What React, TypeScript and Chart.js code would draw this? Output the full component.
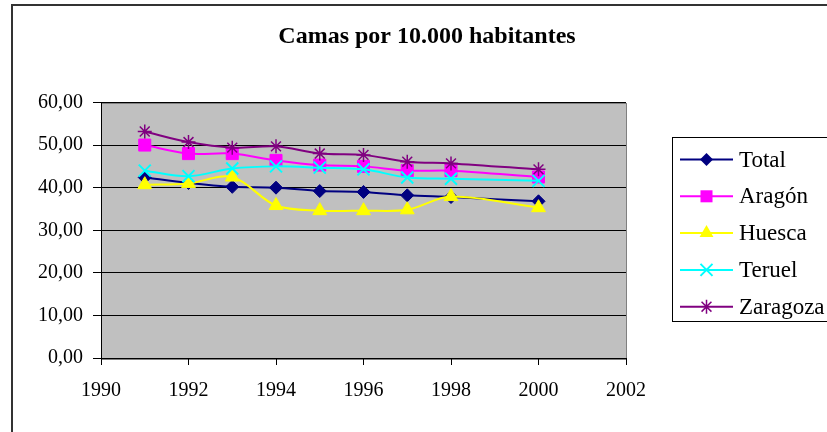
import React, { useEffect, useRef } from 'react';
import { Chart, registerables } from 'chart.js';

Chart.register(...registerables);

const titleText = 'Camas por 10.000 habitantes';
const years = [1991, 1992, 1993, 1994, 1995, 1996, 1997, 1998, 2000];
const seriesNames = ['Total', 'Aragón', 'Huesca', 'Teruel', 'Zaragoza'];
const total = [42.4, 41.1, 40.2, 40.0, 39.2, 39.0, 38.2, 37.8, 36.8];
const aragon = [50.0, 48.0, 48.0, 46.4, 45.3, 45.0, 44.0, 44.0, 42.5];
const huesca = [40.7, 41.0, 42.5, 35.8, 34.6, 34.6, 34.8, 37.9, 35.3];
const teruel = [44.0, 42.7, 44.5, 45.0, 44.7, 44.3, 42.4, 42.1, 41.6];
const zaragoza = [53.2, 50.7, 49.4, 49.7, 48.0, 47.7, 46.1, 45.7, 44.3];
const seriesValues = [total, aragon, huesca, teruel, zaragoza];
const colors = ['#000080', '#FF00FF', '#FFFF00', '#00FFFF', '#800080'];
const markers = ['rectRot', 'rect', 'triangle', 'crossRot', 'star'];
const markerRadius = [6.5, 8.5, 8, 8.5, 7];
const xMin = 1990;
const xMax = 2002;
const xStep = 2;
const yMin = 0;
const yMax = 60;
const yStep = 10;

const SERIF = '"Liberation Serif", "Times New Roman", serif';

function drawMarker(ctx: CanvasRenderingContext2D, style: string, x: number, y: number, r: number, color: string) {
  ctx.save();
  ctx.fillStyle = color;
  ctx.strokeStyle = color;
  ctx.beginPath();
  if (style === 'rectRot') {
    ctx.moveTo(x - r, y);
    ctx.lineTo(x, y - r);
    ctx.lineTo(x + r, y);
    ctx.lineTo(x, y + r);
    ctx.closePath();
    ctx.fill();
  } else if (style === 'rect') {
    const s = Math.SQRT1_2 * r;
    ctx.rect(x - s, y - s, 2 * s, 2 * s);
    ctx.fill();
  } else if (style === 'triangle') {
    ctx.moveTo(x, y - r);
    ctx.lineTo(x + r * Math.sin(Math.PI / 3), y + r / 2);
    ctx.lineTo(x - r * Math.sin(Math.PI / 3), y + r / 2);
    ctx.closePath();
    ctx.fill();
  } else if (style === 'crossRot') {
    const s = Math.SQRT1_2 * r;
    ctx.lineWidth = 2;
    ctx.moveTo(x - s, y - s);
    ctx.lineTo(x + s, y + s);
    ctx.moveTo(x - s, y + s);
    ctx.lineTo(x + s, y - s);
    ctx.stroke();
  } else if (style === 'star') {
    const s = Math.SQRT1_2 * r;
    ctx.lineWidth = 1.5;
    ctx.moveTo(x - s, y - s);
    ctx.lineTo(x + s, y + s);
    ctx.moveTo(x - s, y + s);
    ctx.lineTo(x + s, y - s);
    ctx.moveTo(x, y - r);
    ctx.lineTo(x, y + r);
    ctx.stroke();
  }
  ctx.restore();
}

const decorPlugin = {
  id: 'decor',
  beforeDraw(chart: any) {
    const { ctx, chartArea: a, width, height } = chart;
    ctx.save();
    ctx.fillStyle = '#ffffff';
    ctx.fillRect(0, 0, width, height);
    ctx.strokeStyle = '#333333';
    ctx.lineWidth = 2;
    ctx.strokeRect(12, 5, 900, 500);
    ctx.fillStyle = '#C0C0C0';
    ctx.fillRect(a.left, a.top, a.right - a.left, a.bottom - a.top);
    ctx.strokeStyle = '#808080';
    ctx.lineWidth = 1;
    ctx.strokeRect(Math.round(a.left) + 0.5, Math.round(a.top) + 0.5, Math.round(a.right - a.left), Math.round(a.bottom - a.top));
    ctx.restore();
  },
  afterDraw(chart: any) {
    const { ctx } = chart;
    ctx.save();
    // title
    ctx.fillStyle = '#000';
    ctx.font = 'bold 24px ' + SERIF;
    ctx.textAlign = 'center';
    ctx.textBaseline = 'middle';
    ctx.fillText(titleText, 427, 37);
    // legend
    ctx.strokeStyle = '#000';
    ctx.lineWidth = 1;
    ctx.strokeRect(672.5, 137.5, 220, 184);
    ctx.font = '23px ' + SERIF;
    ctx.textAlign = 'left';
    chart.data.datasets.forEach((ds: any, i: number) => {
      const y = 159.5 + i * 36.8;
      ctx.strokeStyle = ds.borderColor;
      ctx.lineWidth = 2;
      ctx.beginPath();
      ctx.moveTo(680, y);
      ctx.lineTo(733, y);
      ctx.stroke();
      drawMarker(ctx, ds.pointStyle, 706.5, y, ds.pointRadius, ds.borderColor);
      ctx.fillStyle = '#000';
      ctx.fillText(ds.label, 739, y + 1);
    });
    ctx.restore();
  },
};

export default function App() {
  const ref = useRef<HTMLCanvasElement | null>(null);
  useEffect(() => {
    document.body.style.margin = '0';
    const canvas = ref.current;
    if (!canvas) return;
    const datasets = seriesNames.map((name, i) => ({
      label: name,
      data: years.map((yr, j) => ({ x: yr, y: seriesValues[i][j] })),
      borderColor: colors[i],
      backgroundColor: colors[i],
      borderWidth: 2,
      tension: 0.33,
      pointStyle: markers[i],
      pointRadius: markerRadius[i],
      pointBackgroundColor: colors[i],
      pointBorderColor: colors[i],
      pointBorderWidth: markers[i] === 'crossRot' ? 2 : markers[i] === 'star' ? 1.5 : 1,
      order: seriesNames.length - i,
      fill: false,
    }));
    const chart = new Chart(canvas, {
      type: 'line',
      data: { datasets },
      plugins: [decorPlugin],
      options: {
        animation: false,
        responsive: false,
        devicePixelRatio: 1,
        layout: { padding: { top: 102.5, right: 201, bottom: 0, left: 0 } },
        plugins: {
          legend: { display: false },
          title: { display: false },
          tooltip: { enabled: false },
        },
        scales: {
          x: {
            type: 'linear',
            min: xMin,
            max: xMax,
            ticks: {
              stepSize: xStep,
              autoSkip: false,
              maxRotation: 0,
              padding: 14,
              color: '#000',
              font: { family: SERIF, size: 20 },
              callback: (v: any) => String(v),
            },
            grid: { drawOnChartArea: false, drawTicks: true, tickLength: 7, color: '#000' },
            border: { color: '#000', width: 1 },
            afterFit: (s: any) => { s.height = 74; },
          },
          y: {
            min: yMin,
            max: yMax,
            ticks: {
              stepSize: yStep,
              padding: 10,
              color: '#000',
              font: { family: SERIF, size: 20 },
              callback: (v: any) => Number(v).toFixed(2).replace('.', ','),
            },
            grid: { color: '#000', tickLength: 8 },
            border: { color: '#000', width: 1 },
            afterFit: (s: any) => { s.width = 101; },
          },
        },
      },
    } as any);
    return () => chart.destroy();
  }, []);
  return <canvas ref={ref} width={827} height={432} style={{ display: 'block' }} />;
}
